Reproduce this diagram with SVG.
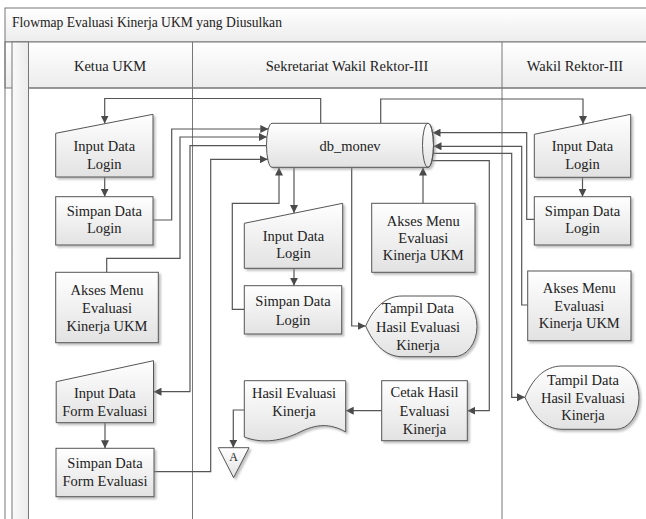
<svg xmlns="http://www.w3.org/2000/svg" width="646" height="519" viewBox="0 0 646 519">
<defs>
<linearGradient id="gNode" x1="0" y1="0" x2="0" y2="1"><stop offset="0" stop-color="#ffffff"/><stop offset="1" stop-color="#e2e2e2"/></linearGradient>
<linearGradient id="gHead" x1="0" y1="0" x2="0" y2="1"><stop offset="0" stop-color="#ffffff"/><stop offset="1" stop-color="#ececec"/></linearGradient>
<linearGradient id="gStrip" x1="0" y1="0" x2="1" y2="0"><stop offset="0" stop-color="#fafafa"/><stop offset="1" stop-color="#ebebeb"/></linearGradient>
<filter id="sh" x="-10%" y="-10%" width="130%" height="130%"><feDropShadow dx="2" dy="2" stdDeviation="1.2" flood-color="#888" flood-opacity="0.55"/></filter>
<marker id="ar" viewBox="0 0 10 10" refX="10" refY="5" markerWidth="8" markerHeight="8" markerUnits="userSpaceOnUse" orient="auto"><path d="M0,0 L10,5 L0,10 Z" fill="#4a4a4a"/></marker>
<style>
.nd{fill:url(#gNode);stroke:#555;stroke-width:1;filter:url(#sh)}
.t{font-family:"Liberation Serif","Times New Roman",serif;font-size:14.5px;fill:#222;text-anchor:middle}
.h{font-family:"Liberation Serif","Times New Roman",serif;font-size:14.5px;fill:#222;text-anchor:middle}
.fr{fill:none;stroke:#777;stroke-width:1}
.ca{fill:none;stroke:#555;stroke-width:1.2;marker-end:url(#ar)}
</style>
</defs>
<rect width="646" height="519" fill="#fff"/>
<g id="frame">
<rect x="5" y="8" width="645" height="34" fill="url(#gHead)" stroke="#777"/>
<text x="12" y="27" style="font-family:'Liberation Serif','Times New Roman',serif;font-size:13.6px;fill:#222">Flowmap Evaluasi Kinerja UKM yang Diusulkan</text>
<rect x="5" y="42" width="645" height="46" fill="url(#gHead)" stroke="#777"/>
<rect x="12" y="42" width="16.5" height="480" fill="url(#gStrip)" stroke="#777"/>
<line class="fr" x1="5" y1="42" x2="5" y2="519"/>
<line class="fr" x1="192.5" y1="42" x2="192.5" y2="519"/>
<line class="fr" x1="502" y1="42" x2="502" y2="519"/>
<line class="fr" x1="28.5" y1="88" x2="650" y2="88"/>
<text class="h" x="110" y="71">Ketua UKM</text>
<text class="h" x="347" y="71">Sekretariat Wakil Rektor-III</text>
<text class="h" x="575" y="71">Wakil Rektor-III</text>
</g>
<g id="connectors">
<path class="ca" d="M320.7,123.3 V98.5 H104.7 V123.5"/>
<path class="ca" d="M104.7,177 V196.7"/>
<path class="ca" d="M153,220 H171.7 V129 H268.3"/>
<path class="ca" d="M106.7,272.3 V258.3 H180 V137 H266.9"/>
<path class="ca" d="M266.5,145.7 H190 V391.7 H153.5"/>
<path class="ca" d="M105,422.7 V448.3"/>
<path class="ca" d="M154,471.7 H210.7 V159.3 H267.8"/>
<path class="ca" d="M294,167.3 V213"/>
<path class="ca" d="M294,268.3 V285.7"/>
<path class="ca" d="M244.3,309.3 H232.3 V203.3 H279 V167.5"/>
<path class="ca" d="M351.7,167.3 V326 H365.7"/>
<path class="ca" d="M423,203.3 V167.5"/>
<path class="ca" d="M380.7,123.3 V99 H583 V124"/>
<path class="ca" d="M582.5,177.3 V196.7"/>
<path class="ca" d="M534.3,219.3 H526.7 V132.7 H432.5"/>
<path class="ca" d="M527.7,305 H521.7 V146.3 H433.5"/>
<path class="ca" d="M433,153.3 H511.7 V397.3 H525"/>
<path class="ca" d="M432.3,160.7 H489.3 V410.7 H467.3"/>
<path class="ca" d="M381.7,410.7 H345.7"/>
<path class="ca" d="M244.3,410 H233.3 V447.7"/>
</g>
<g id="db_monev">
<path class="nd" d="M272,123.3 H428 A5.5,22 0 0 1 428,167.3 H272 A5.5,22 0 0 1 272,123.3 Z"/>
<ellipse cx="428" cy="145.3" rx="5.5" ry="22" fill="none" stroke="#555"/>
<text class="t" x="350" y="151">db_monev</text>
</g>
<g id="k_input_login">
<path class="nd" d="M55.7,133.3 L153,114.3 L153,177 L55.7,177 Z"/>
<text class="t" x="104.3" y="151">Input Data</text>
<text class="t" x="104.3" y="168.5">Login</text>
</g>
<g id="k_simpan_login">
<rect class="nd" x="55.7" y="196.7" width="97.3" height="48.3"/>
<text class="t" x="104.3" y="216">Simpan Data</text>
<text class="t" x="104.3" y="233">Login</text>
</g>
<g id="k_akses_menu">
<rect class="nd" x="55.7" y="272.3" width="102.6" height="70.4"/>
<text class="t" x="107" y="294.5">Akses Menu</text>
<text class="t" x="107" y="312.5">Evaluasi</text>
<text class="t" x="107" y="330.5">Kinerja UKM</text>
</g>
<g id="k_input_form">
<path class="nd" d="M56.2,381.7 L153.5,360.7 L153.5,422.7 L56.2,422.7 Z"/>
<text class="t" x="104.8" y="397.5">Input Data</text>
<text class="t" x="104.8" y="416">Form Evaluasi</text>
</g>
<g id="k_simpan_form">
<rect class="nd" x="56" y="448.3" width="98" height="48.4"/>
<text class="t" x="105" y="467.5">Simpan Data</text>
<text class="t" x="105" y="486">Form Evaluasi</text>
</g>
<g id="s_input_login">
<path class="nd" d="M244.3,223.3 L342.7,203.3 L342.7,268.3 L244.3,268.3 Z"/>
<text class="t" x="293.5" y="241">Input Data</text>
<text class="t" x="293.5" y="258">Login</text>
</g>
<g id="s_simpan_login">
<rect class="nd" x="244.3" y="285.7" width="97.4" height="48.3"/>
<text class="t" x="293" y="306">Simpan Data</text>
<text class="t" x="293" y="324.5">Login</text>
</g>
<g id="s_akses_menu">
<rect class="nd" x="371.7" y="203.3" width="103.3" height="69"/>
<text class="t" x="423.3" y="226">Akses Menu</text>
<text class="t" x="423.3" y="243">Evaluasi</text>
<text class="t" x="423.3" y="260">Kinerja UKM</text>
</g>
<g id="s_tampil">
<path class="nd" d="M365.7,326 C373,309 385,296 402,296 L454,296 A23,30.35 0 0 1 454,356.7 L402,356.7 C385,356.7 373,343 365.7,326 Z"/>
<text class="t" x="418" y="313">Tampil Data</text>
<text class="t" x="418" y="331.5">Hasil Evaluasi</text>
<text class="t" x="418" y="349.5">Kinerja</text>
</g>
<g id="s_cetak">
<rect class="nd" x="381.7" y="380.7" width="85.6" height="60"/>
<text class="t" x="424.5" y="397">Cetak Hasil</text>
<text class="t" x="424.5" y="415.5">Evaluasi</text>
<text class="t" x="424.5" y="433.5">Kinerja</text>
</g>
<g id="s_hasil">
<path class="nd" d="M244.3,380.7 H345.7 V432 C330,423 316,424 300,432 C282,441 262,444 244.3,437 Z"/>
<text class="t" x="294" y="397.5">Hasil Evaluasi</text>
<text class="t" x="294" y="416">Kinerja</text>
</g>
<g id="s_connector_a">
<path class="nd" d="M218.3,447.7 H249 L233.6,477.7 Z"/>
<text class="t" x="233.6" y="461" style="font-size:12px">A</text>
</g>
<g id="w_input_login">
<path class="nd" d="M534.3,134.3 L630.7,114.3 L630.7,177.3 L534.3,177.3 Z"/>
<text class="t" x="582.5" y="151">Input Data</text>
<text class="t" x="582.5" y="168.5">Login</text>
</g>
<g id="w_simpan_login">
<rect class="nd" x="534.3" y="196.7" width="96.4" height="48.3"/>
<text class="t" x="582.5" y="216">Simpan Data</text>
<text class="t" x="582.5" y="233">Login</text>
</g>
<g id="w_akses_menu">
<rect class="nd" x="527.7" y="271" width="103.3" height="69.7"/>
<text class="t" x="579.3" y="293">Akses Menu</text>
<text class="t" x="579.3" y="310.5">Evaluasi</text>
<text class="t" x="579.3" y="328">Kinerja UKM</text>
</g>
<g id="w_tampil">
<path class="nd" d="M525,397.3 C532,380 544,366 562,366 L616,366 A23,31.65 0 0 1 616,429.3 L562,429.3 C544,429.3 532,414 525,397.3 Z"/>
<text class="t" x="583" y="384.5">Tampil Data</text>
<text class="t" x="583" y="403">Hasil Evaluasi</text>
<text class="t" x="583" y="419.5">Kinerja</text>
</g>
</svg>
